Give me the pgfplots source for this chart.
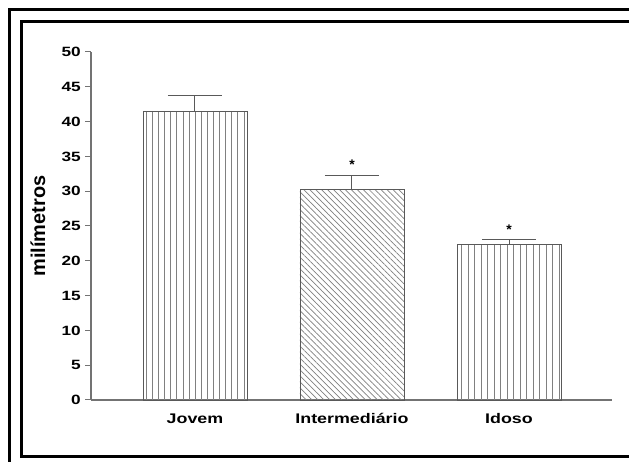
\documentclass[border=0pt]{standalone}
\usepackage{pgfplots}
\pgfplotsset{compat=1.18}
\usetikzlibrary{patterns.meta}
\usepackage{fontspec}
\setmainfont{Liberation Sans}
\newfontfamily\wide[FakeStretch=1.28]{Liberation Sans}
\definecolor{axgray}{gray}{0.45}
\definecolor{bargray}{gray}{0.35}
\begin{document}
\begin{tikzpicture}[x=1bp,y=1bp]
\clip (0,0) rectangle (629,462);
\fill[white] (0,0) rectangle (629,462);
% decorative frame
\draw[line width=3bp] (9.5,-5) -- (9.5,452.5) -- (640,452.5);
\draw[line width=3bp] (640,5.5) -- (21.5,5.5) -- (21.5,440.5) -- (640,440.5);
\begin{axis}[
  at={(91bp,62bp)}, anchor=south west,
  scale only axis, width=521bp, height=348bp,
  xmin=-0.662, xmax=2.656, ymin=0, ymax=50,
  axis lines=left, axis line style={axgray, line width=1.1bp, -},
  xtick={0,1,2}, xticklabels={Jovem,Intermediário,Idoso},
  major x tick style={draw=none},
  ytick={0,5,...,50},
  tick align=outside, major tick length=6bp,
  y tick style={axgray, line width=1bp},
  /pgf/number format/assume math mode=true,
  yticklabel style={font=\wide\bfseries\fontsize{13.5}{13.5}\selectfont, inner sep=0pt, anchor=east, xshift=-4bp},
  xticklabel style={font=\wide\bfseries\fontsize{14}{14}\selectfont, inner sep=0pt, anchor=base, yshift=-18bp},
  ylabel={milímetros},
  every axis y label/.style={at={(axis description cs:0,0.5)}, xshift=-53bp, rotate=90, anchor=center, font=\bfseries\fontsize{20}{20}\selectfont},
  clip=false,
]
\addplot[ybar, bar width=104bp, bar shift=0pt, draw=bargray, line width=0.9bp,
  pattern={Lines[angle=90,distance=6.1bp,line width=0.9bp]}, pattern color=gray,
  error bars/.cd, y dir=plus, y explicit,
  error bar style={bargray, line width=1bp},
  error mark options={rotate=90, bargray, line width=1bp, mark size=27bp}]
  coordinates {(0,41.5) +- (0,2.3)};
\addplot[ybar, bar width=104bp, bar shift=0pt, draw=bargray, line width=0.9bp,
  pattern={Lines[angle=-45,distance=4.2bp,line width=0.7bp]}, pattern color=gray,
  error bars/.cd, y dir=plus, y explicit,
  error bar style={bargray, line width=1bp},
  error mark options={rotate=90, bargray, line width=1bp, mark size=27bp}]
  coordinates {(1,30.2) +- (0,2.1)};
\addplot[ybar, bar width=104bp, bar shift=0pt, draw=bargray, line width=0.9bp,
  pattern={Lines[angle=90,distance=6.5bp,line width=0.9bp]}, pattern color=gray,
  error bars/.cd, y dir=plus, y explicit,
  error bar style={bargray, line width=1bp},
  error mark options={rotate=90, bargray, line width=1bp, mark size=27bp}]
  coordinates {(2,22.3) +- (0,0.8)};
\addplot[only marks, mark=none, nodes near coords={\bfseries*},
  every node near coord/.style={anchor=center, inner sep=0pt, font=\fontsize{14}{14}\selectfont}]
  coordinates {(1,33.8) (2,24.4)};
\end{axis}
\end{tikzpicture}
\end{document}
